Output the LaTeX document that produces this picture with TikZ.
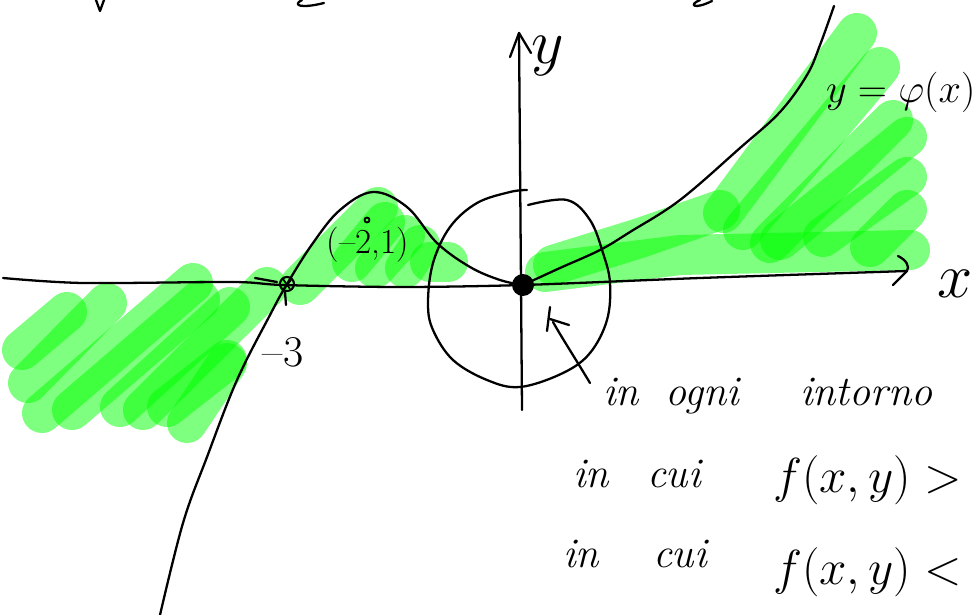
\RequirePackage{fix-cm}
\documentclass[tikz,border=0pt]{standalone}
\usepackage{fontspec}
\definecolor{hlgreen}{RGB}{0,255,0}
\newcommand\handfont{\fontsize{24}{28}\selectfont\itshape}
\newcommand\bigmath{\fontsize{28}{32}\selectfont}
\begin{document}
\begin{tikzpicture}[x=0.02cm,y=-0.02cm,
  ink/.style={line width=1.3pt,line cap=round,line join=round},
  hl/.style={line width=0.8cm,line cap=round,draw=hlgreen,draw opacity=0.5},
  lbl/.style={inner sep=0pt,outer sep=0pt}]
\useasboundingbox (0,0) rectangle (980,615);
\clip (0,0) rectangle (980,615);

% ---- green highlighter strokes ----
\foreach \xa/\ya/\xb/\yb in {
  22/350/67/312, 28/383/107/303, 42/413/193/283, 72/410/200/300,
  120/407/230/307, 143/410/267/287, 167/407/227/360, 187/423/227/363,
  300/285/378/207, 352/262/385/222, 375/268/405/235, 405/268/420/245,
  430/262/448/262,
  857/33/723/213, 880/67/743/230, 893/120/770/243, 907/137/780/240,
  907/177/823/237, 907/210/870/247}
  \draw[hl] (\xa,\ya) -- (\xb,\yb);
\draw[hl] (545,272) -- (680,255) -- (910,250);
\draw[hl] (553,265) -- (640,238) -- (720,210);

% ---- key points ----
\node[circle,fill=black,minimum size=0.44cm,inner sep=0pt] (O) at (523,285) {};
\node[circle,draw,line width=1.2pt,minimum size=0.28cm,inner sep=0pt] (P) at (287,284) {};
\node[circle,draw,line width=1pt,minimum size=0.1cm,inner sep=0pt] (Q) at (367,220) {};
\draw[line width=1pt] (283,279) -- (290,289) (284,289) -- (291,280);
\draw[ink] (255,278) -- (277,282);
\draw[ink] (285,292) -- (286,305);

% ---- axes ----
\coordinate (xs) at (3,278);
\coordinate (xe) at (907,271);
\coordinate (ys) at (522,410);
\coordinate (ye) at (519,33);
\draw[ink] plot[smooth,tension=0.5] coordinates {(xs) (83,283) (233,282) (283,285) (400,287) (523,285) (700,278) (xe)};
\draw[ink] (898,256) .. controls (906,260) and (910,266) .. (xe) -- (893,285);
\draw[ink] (ys) -- (ye);
\draw[ink] (510,57) -- (ye) -- (531,53);

% ---- curve y = phi(x) ----
\draw[ink] plot[smooth,tension=0.6] coordinates {(160,615) (183,523) (207,457) (237,380) (270,315) (P) (313,243) (340,210) (373,192) (407,207) (437,243) (470,267) (500,280) (O)};
\draw[ink] plot[smooth,tension=0.6] coordinates {(O) (560,268) (600,250) (630,232) (680,200) (740,148) (780,112) (807,75) (820,45) (834,6)};

% ---- neighbourhood ----
\draw[ink] plot[smooth,tension=0.6] coordinates {(528,205) (567,200) (590,220) (603,253) (610,283) (607,320) (590,353) (563,373) (520,387) (487,380) (453,360) (433,330) (428,303) (433,263) (450,227) (477,203) (510,192) (527,190)};

% ---- pointer arrow ----
\coordinate (ta) at (590,383);
\coordinate (tb) at (553,322);
\draw[ink] (ta) .. controls (575,358) and (562,338) .. (tb);
\draw[ink] (547,331) -- (550,307);
\draw[ink] (550,319) -- (569,325);

% ---- top fragments ----
\draw[ink] (96,0) -- (100,11) -- (104,0);
\draw[ink] (302,0) .. controls (292,5) and (300,9) .. (324,3);
\draw[ink] (700,0) .. controls (688,5) and (694,10) .. (712,1);

% ---- labels ----
\node[lbl] (ly) at (548,56) {\fontsize{36}{40}\selectfont $y$};
\node[lbl] (lx) at (955,284) {\fontsize{36}{40}\selectfont $x$};
\node[lbl,anchor=west] (lphi) at (826,92) {\fontsize{23}{27}\selectfont $y=\varphi(x)$};
\node[lbl] (lm3) at (283,352) {\fontsize{25}{28}\selectfont \textendash3};
\node[lbl] (lq) at (368,245) {\fontsize{20}{24}\selectfont (\textendash2,1)};

\node[lbl,anchor=base west] (t1a) at (603,405) {\handfont in};
\node[lbl,anchor=base west] (t1b) at (665,405) {\handfont ogni};
\node[lbl,anchor=base west] (t1c) at (800,405) {\handfont intorno};

\node[lbl,anchor=base west] (t2a) at (573,487) {\handfont in};
\node[lbl,anchor=base west] (t2b) at (647,487) {\handfont cui};
\node[lbl,anchor=west] (t2c) at (773,480) {\bigmath $f(x,y)>$};

\node[lbl,anchor=base west] (t3a) at (563,567) {\handfont in};
\node[lbl,anchor=base west] (t3b) at (653,567) {\handfont cui};
\node[lbl,anchor=west] (t3c) at (773,572) {\bigmath $f(x,y)<$};
\end{tikzpicture}
\end{document}
